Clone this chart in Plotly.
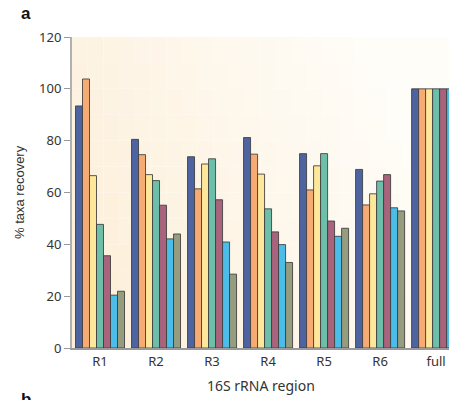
import plotly.graph_objects as go

regions = ["R1", "R2", "R3", "R4", "R5", "R6", "full"]
series_names = ["s1", "s2", "s3", "s4", "s5", "s6", "s7"]
s1 = [93.4, 80.5, 73.8, 81.2, 75.0, 68.9, 100]
s2 = [103.8, 74.6, 61.4, 74.8, 61.0, 55.2, 100]
s3 = [66.5, 66.9, 71.0, 67.1, 70.3, 59.5, 100]
s4 = [47.7, 64.6, 73.0, 53.7, 75.0, 64.4, 100]
s5 = [35.6, 55.1, 57.2, 44.8, 49.0, 66.9, 100]
s6 = [20.4, 42.1, 40.9, 39.9, 43.1, 54.1, 100]
s7 = [21.9, 44.0, 28.5, 33.0, 46.2, 52.9, 100]
yticks = [0, 20, 40, 60, 80, 100, 120]

series = [s1, s2, s3, s4, s5, s6, s7]
colors = ["#4e64a0", "#f6aa74", "#fde79a", "#6dbfa9", "#a9637c", "#4cbde8", "#969c7e"]

W, H = 449, 400
L, R, T, B = 72, 0, 37, 52
pw, ph = W - L - R, H - T - B

fig = go.Figure()
for name, vals, c in zip(series_names, series, colors):
    fig.add_trace(go.Bar(x=regions, y=vals, name=name, marker=dict(color=c, line=dict(color="rgba(60,60,60,0.85)", width=1))))

# background gradient grid
shapes = []
nx, ny = 24, 12
c0 = (252, 237, 214)   # bottom-left peach
c1 = (255, 253, 248)   # top-right near white
for i in range(nx):
    for j in range(ny):
        fx = (i + 0.5) / nx
        fy = (j + 0.5) / ny
        t = min(1.0, (fx * 0.85 + fy * 0.35) / 1.0)
        col = tuple(int(round(a + (b - a) * t)) for a, b in zip(c0, c1))
        shapes.append(dict(type="rect", xref="paper", yref="paper",
                           x0=i / nx, x1=(i + 1) / nx, y0=j / ny, y1=(j + 1) / ny,
                           fillcolor="rgb(%d,%d,%d)" % col, line=dict(width=0), layer="below"))

def px(x):
    return (x - L) / pw

def py(y):
    return (H - B - y) / ph

annotations = [
    dict(text="<b>a</b>", x=px(26), y=py(13), xref="paper", yref="paper", showarrow=False,
         xanchor="center", yanchor="middle",
         font=dict(size=17, color="#111", family="Liberation Sans")),
    dict(text="<b>b</b>", x=px(26), y=py(388), xref="paper", yref="paper", showarrow=False,
         xanchor="center", yanchor="top", font=dict(size=17, color="#111", family="Liberation Sans")),
    dict(text="% taxa recovery", x=px(19), y=py(192), xref="paper", yref="paper", showarrow=False,
         xanchor="center", yanchor="middle",
         textangle=-90, font=dict(size=13, color="#333", family="Liberation Sans")),
    dict(text="16S rRNA region", x=px(261), y=py(385), xref="paper", yref="paper", showarrow=False,
         xanchor="center", yanchor="middle",
         font=dict(size=14, color="#333", family="Noto Sans")),
]

fig.update_layout(
    width=W, height=H,
    margin=dict(l=L, r=R, t=T, b=B, pad=0),
    barmode="group", bargap=0.125, bargroupgap=0,
    showlegend=False,
    paper_bgcolor="white", plot_bgcolor="rgba(0,0,0,0)",
    shapes=shapes, annotations=annotations,
    font=dict(family="Noto Sans", size=13, color="#333"),
)
fig.update_xaxes(range=[-0.5, 6.23], showline=True, linecolor="#9a9a9a", linewidth=2,
                 ticks="", showgrid=False, tickfont=dict(size=13, color="#333"))
fig.update_yaxes(range=[0, 120], tickvals=yticks, showline=True, linecolor="#b0b0b0", linewidth=2,
                 ticks="outside", ticklen=6, tickcolor="#9a9a9a", showgrid=False, zeroline=False,
                 tickfont=dict(size=13, color="#333"))

fig.write_html("out.html", config={"displayModeBar": False},
               post_script="document.body.style.margin='0px';document.body.style.overflow='hidden';")
